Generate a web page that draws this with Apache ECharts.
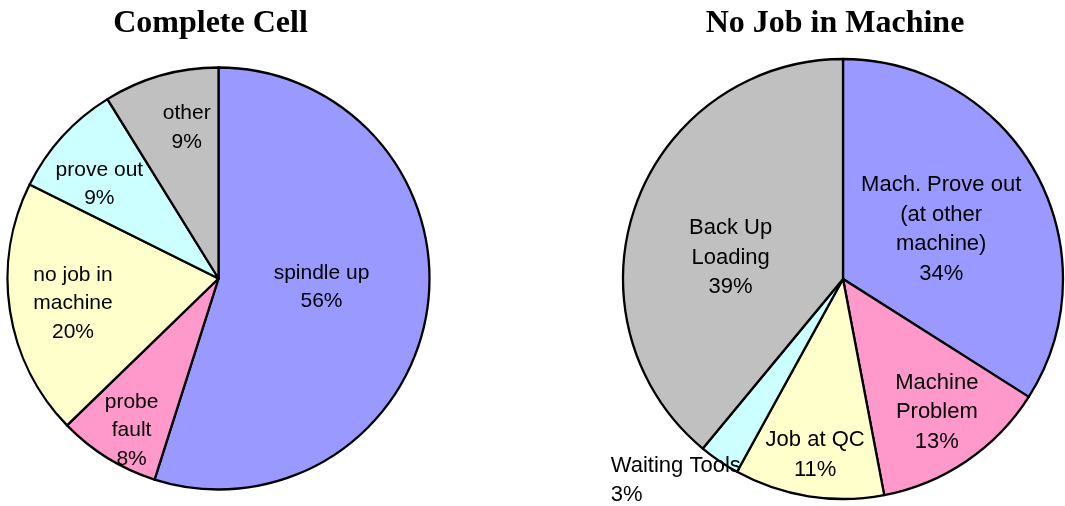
<!DOCTYPE html>
<html>
<head>
<meta charset="utf-8">
<script src="https://cdn.jsdelivr.net/npm/echarts@6/dist/echarts.min.js"></script>
<style>
  html, body { margin: 0; padding: 0; background: #fff; }
  #chart { width: 1065px; height: 506px; }
</style>
</head>
<body>
<div id="chart"></div>
<script>
// data (clockwise from 12 o'clock)
const cellNames = ["spindle up", "probe\nfault", "no job in\nmachine", "prove out", "other"];
const cellValues = [56, 8, 20, 9, 9];
const noJobNames = ["Mach. Prove out\n(at other\nmachine)", "Machine\nProblem", "Job at QC", "Waiting Tools", "Back Up\nLoading"];
const noJobValues = [34, 13, 11, 3, 39];

const colors = ["#9999FF", "#FF99CC", "#FFFFCC", "#CCFFFF", "#C0C0C0"];

// where the labels sit: fraction of radius and a small turn (deg) off the slice middle
const cellLabelDist = [0.49, 0.83, 0.70, 0.72, 0.73];
const cellLabelTurn = [-4, -2, -1, -4, 4];
const noJobLabelDist = [0.5, 0.74, 0.81, 1.19, 0.52];
const noJobLabelTurn = [2, -1, 0, 5.5, -9];

function placeLabels(values, cx, cy, r, dist, turn) {
  const total = values.reduce((a, b) => a + b, 0);
  return function (p) {
    const i = p.dataIndex;
    let before = 0;
    for (let k = 0; k < i; k++) before += values[k];
    const a = ((before + values[i] / 2) / total * 360 + turn[i]) * Math.PI / 180;
    const tx = cx + dist[i] * r * Math.sin(a);
    const ty = cy - dist[i] * r * Math.cos(a);
    const lr = p.labelRect;
    return { dx: tx - (lr.x + lr.width / 2), dy: ty - (lr.y + lr.height / 2) };
  };
}

function pieData(names, values, fontSize, lineHeight) {
  return values.map((v, i) => {
    const d = { name: names[i], value: v };
    // the outside label is left aligned line by line
    if (names[i] === "Waiting Tools") {
      d.label = {
        formatter: "{l|{b}}\n{l|{c}%}",
        rich: { l: { align: "left", fontFamily: "Liberation Sans", fontSize: fontSize, lineHeight: lineHeight, color: "#000" } }
      };
    }
    return d;
  });
}

const myChart = echarts.init(document.getElementById("chart"));

const option = {
  animation: false,
  color: colors,
  title: [
    {
      text: "Complete Cell",
      left: 210.5, top: 8, textAlign: "center", padding: 0,
      textStyle: { fontFamily: "Liberation Serif", fontWeight: "bold", fontSize: 32, color: "#000" }
    },
    {
      text: "No Job in Machine",
      left: 835, top: 8, textAlign: "center", padding: 0,
      textStyle: { fontFamily: "Liberation Serif", fontWeight: "bold", fontSize: 32, color: "#000" }
    }
  ],
  series: [
    {
      type: "pie",
      center: [218.5, 278.5],
      radius: 211,
      startAngle: 90,
      clockwise: true,
      emphasis: { disabled: true },
      itemStyle: { borderColor: "#000", borderWidth: 2.3 },
      label: {
        position: "inside",
        fontFamily: "Liberation Sans",
        fontSize: 21,
        lineHeight: 28.5,
        color: "#000",
        formatter: p => p.name + "\n" + p.value + "%"
      },
      labelLine: { show: false },
      labelLayout: placeLabels(cellValues, 218.5, 278.5, 211, cellLabelDist, cellLabelTurn),
      data: pieData(cellNames, cellValues, 21, 28.5)
    },
    {
      type: "pie",
      center: [843, 279],
      radius: 220,
      startAngle: 90,
      clockwise: true,
      emphasis: { disabled: true },
      itemStyle: { borderColor: "#000", borderWidth: 2.3 },
      label: {
        position: "inside",
        fontFamily: "Liberation Sans",
        fontSize: 22,
        lineHeight: 29.5,
        color: "#000",
        formatter: p => p.name + "\n" + p.value + "%"
      },
      labelLine: { show: false },
      labelLayout: placeLabels(noJobValues, 843, 279, 220, noJobLabelDist, noJobLabelTurn),
      data: pieData(noJobNames, noJobValues, 22, 29.5)
    }
  ]
};

myChart.setOption(option);
</script>
</body>
</html>
